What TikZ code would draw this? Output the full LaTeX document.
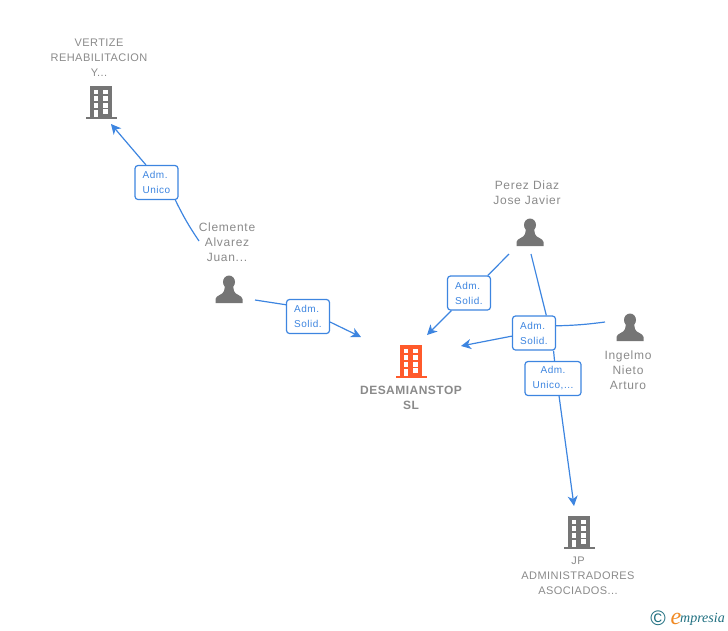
\documentclass[tikz,border=0pt]{standalone}
\usepackage{fontspec}
\setmainfont{Liberation Sans}
\newfontfamily\logofont{Liberation Serif}
\usetikzlibrary{arrows.meta, positioning}
\definecolor{linkblue}{HTML}{3D85E0}
\definecolor{icongray}{HTML}{757575}
\definecolor{textgray}{HTML}{8A8A8A}
\definecolor{mainorange}{HTML}{FF5A2B}
\definecolor{logoteal}{HTML}{1F6F80}
\definecolor{logoorange}{HTML}{F08A24}
\tikzstyle{network}=[x=1pt, y=-1pt, >={Stealth[length=10pt,width=10pt,inset=3pt]}]
\tikzstyle{link}=[color=linkblue, line width=1.2pt]
\tikzstyle{rolebox}=[draw=linkblue, line width=1.2pt, rounded corners=3pt, fill=white, text=linkblue,
  font=\fontsize{10}{15}\selectfont\addfontfeatures{LetterSpace=5}, minimum width=43pt, minimum height=34pt, inner sep=0pt, align=left]
\tikzstyle{entity}=[text=textgray, font=\fontsize{12}{15}\selectfont\addfontfeatures{LetterSpace=6}, align=center, inner sep=0pt]
\tikzstyle{company}=[entity, font=\fontsize{11}{15}\selectfont\addfontfeatures{LetterSpace=4}]
\tikzset{
  building/.pic={
    \fill[pic actions] (-11,-16.3) rectangle (11,15);
    \fill[pic actions] (-15.5,14.7) rectangle (15.5,17.3);
    \foreach \wy in {-12.3,-5.7,1.3} {
      \fill[white] (-7.3,\wy) rectangle (-3,\wy+4.2);
      \fill[white] (2.4,\wy) rectangle (7.4,\wy+4.2);
    }
    \fill[white] (-7.3,8) rectangle (-3,14.7);
    \fill[white] (2.4,7.3) rectangle (7.4,12);
  },
  person/.pic={
    \fill[pic actions] (0,-7) circle[x radius=6, y radius=6.5];
    \fill[pic actions] (-13.5,14) -- (-13.5,10) .. controls (-13,6) and (-6,6) .. (-5,2)
      -- (-4,-3) -- (4,-3) -- (5,2) .. controls (6,6) and (13,6) .. (13.5,10) -- (13.5,14) -- cycle;
  }
}

\begin{document}
\begin{tikzpicture}[network]
  \useasboundingbox (0,0) rectangle (728,630);

  \pic[fill=icongray]   at (101,102) {building};
  \pic[fill=icongray]   at (229,289) {person};
  \pic[fill=icongray]   at (530,232) {person};
  \pic[fill=icongray]   at (630,327) {person};
  \pic[fill=mainorange] at (411,361) {building};
  \pic[fill=icongray]   at (579,532) {building};

  \node[company] (vertize)  at (99,57.5)  {VERTIZE\\REHABILITACION\\Y...};
  \node[entity] (clemente)  at (227,242) {Clemente\\Alvarez\\Juan...};
  \node[entity] (perez)     at (527,192.5) {Perez Diaz\\Jose Javier};
  \node[entity] (ingelmo)   at (628,370) {Ingelmo\\Nieto\\Arturo};
  \node[company,font=\fontsize{12}{15}\selectfont\bfseries\addfontfeatures{LetterSpace=4}] (desamian) at (411,397.5) {DESAMIANSTOP\\SL};
  \node[company] (jp)       at (578,576) {JP\\ADMINISTRADORES\\ASOCIADOS...};

  \node[rolebox] (unico)   at (156.5,182.5) {Adm.\\Unico};
  \node[rolebox] (solidA)  at (308,316.5)   {Adm.\\Solid.};
  \node[rolebox] (solidB)  at (469,293)     {Adm.\\Solid.};
  \node[rolebox] (solidC)  at (534,333)     {Adm.\\Solid.};
  \node[rolebox,minimum width=56pt,align=center] (unicoD) at (553,378.5) {Adm.\\Unico,...};

  % free ends of the connectors
  \coordinate (vertizeIn)   at (111,124);
  \coordinate (clementeA)   at (199,241);
  \coordinate (clementeB)   at (255,300);
  \coordinate (perezA)      at (509,254);
  \coordinate (perezB)      at (531,254);
  \coordinate (ingelmoOut)  at (605,322);
  \coordinate (mainInA)     at (361,337);
  \coordinate (mainInB)     at (427,335);
  \coordinate (mainInC)     at (461,346);
  \coordinate (jpIn)        at (574,506);

  \path[link]
    (clementeA)  edge [bend left=4] (unico.-43)
    (unico.121)  edge [->] (vertizeIn)
    (clementeB)  edge (solidA.152)
    (solidA.-14) edge [->] (mainInA)
    (perezA)     edge (solidB.43)
    (solidB.-135) edge [->] (mainInB)
    (perezB)     edge (solidC.55)
    (ingelmoOut) edge [bend left=3] (solidC.18)
    (solidC.188) edge [->] (mainInC)
    (solidC.-42) edge (unicoD.85)
    (unicoD.-71) edge [->] (jpIn);

  \node[text=logoteal, font=\fontsize{21}{21}\selectfont, inner sep=0pt] (copyright) at (658,618) {©};
  \node[text=logoteal, font=\logofont\itshape\fontsize{14}{14}\selectfont, inner sep=0pt, anchor=west] (logo) at (680,619) {mpresia};
  \node[text=logoorange, font=\logofont\itshape\fontsize{24}{24}\selectfont, inner sep=0pt, left=-1.5pt of logo] (logoE) {e};
\end{tikzpicture}
\end{document}
